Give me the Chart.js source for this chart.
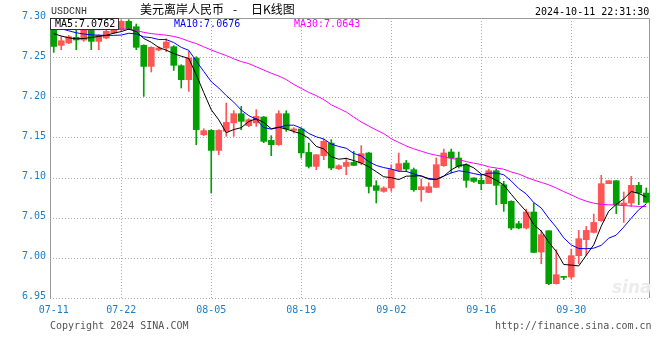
<!DOCTYPE html>
<html><head><meta charset="utf-8">
<script src="https://cdn.jsdelivr.net/npm/chart.js@4.4.1/dist/chart.umd.min.js"></script>
<style>
html,body{margin:0;padding:0;background:#fff;}
#wrap{position:relative;width:660px;height:360px;overflow:hidden;background:#fff;}
canvas{position:absolute;left:0;top:0;}
.t{position:absolute;white-space:pre;font-family:"DejaVu Sans Mono",monospace;font-size:10px;line-height:10px;}
.cj{position:absolute;white-space:pre;font-family:"Noto Sans CJK SC",sans-serif;font-size:12px;line-height:12px;color:#000;}
</style></head><body>
<div id="wrap">
<canvas id="c" width="660" height="360"></canvas>
<div class="t" style="left:51px;top:7px;color:#333;font-family:'Liberation Mono',monospace;">USDCNH</div>
<div class="cj" style="left:140px;top:3px;">美元离岸人民币</div>
<div class="cj" style="left:233px;top:3px;">-</div>
<div class="cj" style="left:251px;top:3px;">日K线图</div>
<div class="t" style="left:535px;top:7px;color:#000;">2024-10-11 22:31:30</div>
<div class="t" id="ma5t" style="left:50px;top:18px;height:10px;padding:0 3px 0 4px;background:#fff;border:1px solid #333;color:#000;line-height:10px;"></div>
<div class="t" id="ma10t" style="left:174px;top:19px;color:#0000ff;"></div>
<div class="t" id="ma30t" style="left:294px;top:19px;color:#ff00ff;"></div>
<div class="t" style="left:612px;top:279px;font-family:'DejaVu Sans',sans-serif;font-style:italic;font-weight:bold;font-size:17px;line-height:17px;color:#ececec;">sina</div>
<div class="t" style="left:50px;top:321px;color:#555;">Copyright 2024 SINA.COM</div>
<div class="t" style="left:495px;top:321px;color:#555;">http://finance.sina.com.cn</div>
</div>
<script>
const dates = ['07-11','07-12','07-13','07-15','07-16','07-17','07-18','07-19','07-20','07-22','07-23','07-24','07-25','07-26','07-27','07-29','07-30','07-31','08-01','08-02','08-03','08-05','08-06','08-07','08-08','08-09','08-10','08-12','08-13','08-14','08-15','08-16','08-17','08-19','08-20','08-21','08-22','08-23','08-24','08-26','08-27','08-28','08-29','08-30','08-31','09-02','09-03','09-04','09-05','09-06','09-07','09-09','09-10','09-11','09-12','09-13','09-14','09-16','09-17','09-18','09-19','09-20','09-21','09-23','09-24','09-25','09-26','09-27','09-28','09-30','10-01','10-02','10-03','10-04','10-05','10-07','10-08','10-09','10-10','10-11'];
const tickDates = ['07-11','07-22','08-05','08-19','09-02','09-16','09-30'];
const gridDates = ['07-22','08-05','08-19','09-02','09-16','09-30'];
const yTicks = [6.95,7.00,7.05,7.10,7.15,7.20,7.25,7.30];

const opens = [7.2916,7.2658,7.2688,7.2758,7.2725,7.2875,7.2708,7.2750,7.2813,7.2854,
7.2958,7.2891,7.2658,7.2395,7.2600,7.2625,7.2641,7.2404,7.2229,7.2500,
7.1541,7.1595,7.1345,7.1583,7.1688,7.1804,7.1654,7.1688,7.1762,7.1470,
7.1416,7.1804,7.1595,7.1613,7.1320,7.1145,7.1279,7.1437,7.1116,7.1145,
7.1195,7.1187,7.1313,7.0904,7.0833,7.0875,7.1095,7.1187,7.1104,7.0854,
7.0820,7.0883,7.1154,7.1325,7.1250,7.1166,7.1000,7.0970,7.0929,7.1091,
7.0916,7.0708,7.0429,7.0375,7.0575,7.0075,7.0341,6.9679,6.9766,6.9762,
7.0029,7.0229,7.0320,7.0466,7.0929,7.0966,7.0666,7.0687,7.0908,7.0812];
const highs = [7.2929,7.2770,7.2783,7.2875,7.2925,7.2925,7.2791,7.2854,7.2891,7.2979,
7.2979,7.2925,7.2666,7.2641,7.2641,7.2741,7.2654,7.2416,7.2583,7.2516,
7.1616,7.1604,7.1604,7.1937,7.1841,7.1895,7.1741,7.1854,7.1770,7.1529,
7.1841,7.1841,7.1629,7.1625,7.1437,7.1291,7.1487,7.1479,7.1166,7.1250,
7.1333,7.1404,7.1320,7.0966,7.0891,7.1166,7.1312,7.1220,7.1125,7.0987,
7.0941,7.1250,7.1362,7.1362,7.1325,7.1179,7.1004,7.1041,7.1112,7.1112,
7.0958,7.0716,7.0458,7.0612,7.0687,7.0345,7.0341,7.0104,6.9770,7.0112,
7.0345,7.0395,7.0550,7.1033,7.0966,7.0966,7.0825,7.1020,7.0945,7.0875];
const lows = [7.2570,7.2604,7.2679,7.2604,7.2708,7.2604,7.2604,7.2741,7.2804,7.2833,
7.2854,7.2604,7.2020,7.2325,7.2591,7.2579,7.2345,7.2125,7.2083,7.1416,
7.1529,7.0812,7.1291,7.1520,7.1520,7.1604,7.1641,7.1645,7.1441,7.1279,
7.1408,7.1583,7.1562,7.1250,7.1125,7.1104,7.1229,7.1104,7.1104,7.1041,
7.1154,7.1166,7.0812,7.0688,7.0822,7.0833,7.1083,7.1079,7.0833,7.0708,
7.0816,7.0883,7.1145,7.1062,7.1125,7.0883,7.0945,7.0854,7.0929,7.0666,
7.0583,7.0354,7.0366,7.0362,7.0066,6.9929,6.9666,6.9675,6.9729,6.9741,
6.9929,7.0033,7.0312,7.0458,7.0929,7.0554,7.0445,7.0645,7.0666,7.0687];
const closes = [7.2645,7.2716,7.2766,7.2725,7.2866,7.2708,7.2783,7.2833,7.2866,7.2958,
7.2866,7.2633,7.2395,7.2633,7.2625,7.2700,7.2408,7.2229,7.2500,7.1604,
7.1591,7.1345,7.1595,7.1695,7.1804,7.1708,7.1729,7.1770,7.1458,7.1416,
7.1804,7.1613,7.1613,7.1313,7.1145,7.1291,7.1458,7.1125,7.1154,7.1195,
7.1158,7.1304,7.0895,7.0845,7.0875,7.1104,7.1179,7.1112,7.0854,7.0891,
7.0891,7.1166,7.1313,7.1250,7.1145,7.0970,7.0958,7.0929,7.1091,7.0908,
7.0679,7.0375,7.0375,7.0575,7.0070,7.0291,6.9679,6.9791,6.9758,7.0029,
7.0241,7.0345,7.0445,7.0929,7.0966,7.0666,7.0687,7.0908,7.0812,7.0696];
const ma5 = [7.2805,7.2775,7.2752,7.2740,7.2744,7.2756,7.2770,7.2783,7.2811,7.2830,
7.2861,7.2831,7.2744,7.2697,7.2631,7.2598,7.2555,7.2522,7.2495,7.2290,
7.2068,7.1853,7.1727,7.1566,7.1606,7.1629,7.1706,7.1741,7.1694,7.1616,
7.1635,7.1612,7.1581,7.1552,7.1498,7.1395,7.1364,7.1266,7.1235,7.1245,
7.1218,7.1187,7.1141,7.1079,7.1015,7.1005,7.0980,7.1023,7.1025,7.1028,
7.0985,7.0983,7.1023,7.1102,7.1153,7.1169,7.1127,7.1050,7.1019,7.0971,
7.0913,7.0796,7.0686,7.0582,7.0415,7.0337,7.0198,7.0081,6.9919,6.9911,
6.9901,7.0034,7.0165,7.0398,7.0585,7.0670,7.0739,7.0831,7.0808,7.0762];
const ma10 = [7.2890,7.2865,7.2840,7.2815,7.2800,7.2790,7.2785,7.2783,7.2783,7.2787,
7.2809,7.2801,7.2764,7.2754,7.2731,7.2730,7.2693,7.2633,7.2596,7.2461,
7.2333,7.2204,7.2125,7.2031,7.1948,7.1849,7.1780,7.1734,7.1630,7.1611,
7.1632,7.1659,7.1661,7.1623,7.1557,7.1515,7.1488,7.1424,7.1394,7.1372,
7.1307,7.1276,7.1204,7.1157,7.1130,7.1112,7.1084,7.1082,7.1052,7.1022,
7.0995,7.0982,7.1023,7.1064,7.1091,7.1077,7.1055,7.1037,7.1061,7.1062,
7.1041,7.0962,7.0868,7.0801,7.0693,7.0625,7.0497,7.0384,7.0251,7.0163,
7.0119,7.0116,7.0123,7.0159,7.0248,7.0286,7.0387,7.0498,7.0603,7.0676];
const ma30 = [7.2872,7.2865,7.2860,7.2855,7.2854,7.2854,7.2854,7.2855,7.2858,7.2862,
7.2862,7.2845,7.2820,7.2805,7.2795,7.2785,7.2770,7.2745,7.2710,7.2680,
7.2640,7.2600,7.2565,7.2530,7.2490,7.2455,7.2430,7.2390,7.2350,7.2310,
7.2275,7.2230,7.2170,7.2120,7.2070,7.2030,7.1980,7.1915,7.1870,7.1825,
7.1760,7.1700,7.1650,7.1600,7.1555,7.1490,7.1445,7.1400,7.1365,7.1335,
7.1305,7.1285,7.1265,7.1245,7.1230,7.1205,7.1185,7.1168,7.1140,7.1125,
7.1110,7.1075,7.1050,7.1010,7.0975,7.0945,7.0915,7.0875,7.0830,7.0790,
7.0745,7.0710,7.0685,7.0670,7.0665,7.0662,7.0655,7.0650,7.0645,7.0643];

document.getElementById('ma5t').textContent = 'MA5:' + ma5[ma5.length-1].toFixed(4);
document.getElementById('ma10t').textContent = 'MA10:' + ma10[ma10.length-1].toFixed(4);
document.getElementById('ma30t').textContent = 'MA30:' + ma30[ma30.length-1].toFixed(4);

const UP = '#ff5555', DOWN = '#00a000';
const colors = closes.map((c,i) => c >= opens[i] ? UP : DOWN);
const LABEL_BLUE = '#1a7fc8';

const framePlugin = {
  id: 'frame',
  beforeDatasetsDraw(chart) {
    const {ctx, chartArea: a} = chart;
    ctx.save();
    ctx.strokeStyle = '#999';
    ctx.lineWidth = 1;
    ctx.beginPath();
    ctx.moveTo(a.left + 0.5, a.bottom);
    ctx.lineTo(a.left + 0.5, a.top + 0.5);
    ctx.lineTo(a.right - 0.5, a.top + 0.5);
    ctx.lineTo(a.right - 0.5, a.bottom);
    ctx.stroke();
    ctx.restore();
  }
};

new Chart(document.getElementById('c'), {
  type: 'bar',
  data: {
    labels: dates,
    datasets: [
      {type:'line', label:'MA5', data:ma5, borderColor:'#000', borderWidth:1, pointRadius:0, tension:0, order:0},
      {type:'line', label:'MA10', data:ma10, borderColor:'#0000ff', borderWidth:1, pointRadius:0, tension:0, order:0},
      {type:'line', label:'MA30', data:ma30, borderColor:'#ff00ff', borderWidth:1, pointRadius:0, tension:0, order:0},
      {label:'body', data:opens.map((o,i)=>[o, closes[i]]), backgroundColor:colors, barThickness:6, grouped:false, minBarLength:1, order:1},
      {label:'wick', data:lows.map((l,i)=>[l, highs[i]]), backgroundColor:colors, barThickness:1, grouped:false, order:2}
    ]
  },
  options: {
    responsive: false,
    animation: false,
    events: [],
    layout: {padding: {left:0, right:10, top:18, bottom:0}},
    plugins: {legend:{display:false}, tooltip:{enabled:false}, title:{display:false}},
    scales: {
      x: {
        type: 'category',
        offset: true,
        grid: {
          offset: false, drawTicks: false, lineWidth: 1,
          color: (c) => (c.tick && gridDates.includes(c.tick.label)) ? '#aaa' : 'rgba(0,0,0,0)'
        },
        border: {display:false, dash:[1,2]},
        ticks: {
          autoSkip: false, maxRotation: 0, minRotation: 0, padding: 6,
          color: LABEL_BLUE, font: {family:'DejaVu Sans Mono', size:10},
          callback: (v, i) => tickDates.includes(dates[i]) ? dates[i] : ''
        },
        afterFit: (s) => { s.height = 62; }
      },
      y: {
        min: 6.95, max: 7.30,
        afterBuildTicks: (s) => { s.ticks = yTicks.map(v => ({value: v})); },
        grid: {drawTicks:false, color:'#aaa', lineWidth:1},
        border: {display:false, dash:[1,2]},
        ticks: {
          padding: 4, labelOffset: -2, color: LABEL_BLUE, font: {family:'DejaVu Sans Mono', size:10},
          callback: (v) => Number(v).toFixed(2)
        },
        afterFit: (s) => { s.width = 50; }
      }
    }
  },
  plugins: [framePlugin]
});
</script>
</body></html>
